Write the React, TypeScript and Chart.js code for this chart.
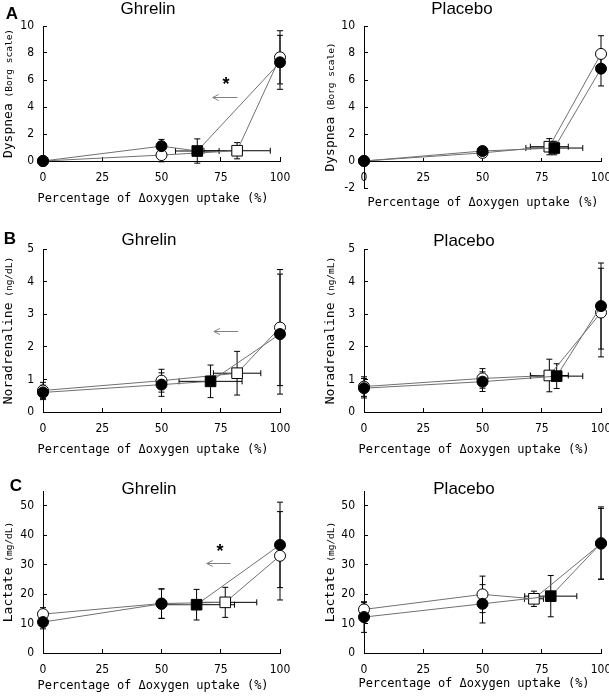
import React, { useEffect, useRef } from 'react';
import { Chart, registerables } from 'chart.js';

Chart.register(...registerables);

// ---------- shared text ----------
const xTickValues = [0, 25, 50, 75, 100];
const xAxisTitle = 'Percentage of Δoxygen uptake (%)';
const ghrelinTitle = 'Ghrelin';
const placeboTitle = 'Placebo';
const panelLetters = ['A', 'B', 'C'];

// ---------- A: Dyspnea ----------
const aGhrFilledX = [0, 50, 65.1, 100];
const aGhrFilledY = [0, 1.1, 0.74, 7.31];
const aGhrFilledXErr = [0, 0, 9.2, 0];
const aGhrFilledYErr = [0, 0.5, 0.9, 2.0];
const aGhrOpenX = [0, 50, 81.9, 100];
const aGhrOpenY = [0, 0.44, 0.76, 7.68];
const aGhrOpenXErr = [0, 0, 14, 0];
const aGhrOpenYErr = [0, 0.5, 0.6, 1.97];
const aGhrStar = [77.2, 5.87];
const aGhrArrow = [82, 71.6, 4.76];

const aPlaFilledX = [0, 50, 80.3, 100];
const aPlaFilledY = [0, 0.74, 0.96, 6.84];
const aPlaFilledXErr = [0, 0, 12, 0];
const aPlaFilledYErr = [0, 0.3, 0.5, 1.28];
const aPlaOpenX = [0, 50, 78.2, 100];
const aPlaOpenY = [0, 0.6, 1.06, 7.93];
const aPlaOpenXErr = [0, 0, 8, 0];
const aPlaOpenYErr = [0, 0.3, 0.6, 1.35];

// ---------- B: Noradrenaline ----------
const bGhrFilledX = [0, 50, 70.7, 100];
const bGhrFilledY = [0.6, 0.84, 0.94, 2.39];
const bGhrFilledXErr = [0, 0, 13.3, 0];
const bGhrFilledYErr = [0.22, 0.36, 0.5, 1.84];
const bGhrOpenX = [0, 50, 81.9, 100];
const bGhrOpenY = [0.66, 0.96, 1.19, 2.59];
const bGhrOpenXErr = [0, 0, 10, 0];
const bGhrOpenYErr = [0.25, 0.35, 0.67, 1.78];
const bGhrArrow = [82.4, 72.1, 2.48];

const bPlaFilledX = [0, 50, 81.3, 100];
const bPlaFilledY = [0.73, 0.93, 1.1, 3.25];
const bPlaFilledXErr = [0, 0, 11, 0];
const bPlaFilledYErr = [0.3, 0.3, 0.38, 1.32];
const bPlaOpenX = [0, 50, 78.2, 100];
const bPlaOpenY = [0.78, 1.03, 1.12, 3.05];
const bPlaOpenXErr = [0, 0, 8, 0];
const bPlaOpenYErr = [0.3, 0.3, 0.5, 1.36];

// ---------- C: Lactate ----------
const cGhrFilledX = [0, 50, 64.8, 100];
const cGhrFilledY = [10.5, 16.7, 16.4, 36.7];
const cGhrFilledXErr = [0, 0, 16, 0];
const cGhrFilledYErr = [2.3, 5, 5.2, 14.5];
const cGhrOpenX = [0, 50, 76.9, 100];
const cGhrOpenY = [13.2, 16.8, 17.2, 33.0];
const cGhrOpenXErr = [0, 0, 13.3, 0];
const cGhrOpenYErr = [2.2, 5, 5.1, 15];
const cGhrStar = [74.7, 35.4];
const cGhrArrow = [79.2, 69.1, 30.5];

const cPlaFilledX = [0, 50, 78.8, 100];
const cPlaFilledY = [12.2, 16.7, 19.3, 37.3];
const cPlaFilledXErr = [0, 0, 11, 0];
const cPlaFilledYErr = [5.2, 6.5, 7, 12.3];
const cPlaOpenX = [0, 50, 71.7, 100];
const cPlaOpenY = [14.8, 19.9, 18.4, 37.1];
const cPlaOpenXErr = [0, 0, 4, 0];
const cPlaOpenYErr = [2.3, 6.2, 2.6, 12];

// ---------- styling / layout ----------
const LINE_COLOR = '#707070';
const TICK_FONT = "'Liberation Sans Narrow', 'DejaVu Sans Condensed', 'Liberation Sans', sans-serif";
const MONO_FONT = "'DejaVu Sans Mono', 'Liberation Mono', monospace";
const SANS_FONT = "'Liberation Sans', Arial, sans-serif";
const Y_AXIS_W = 40;
const X_AXIS_H = 30;

type Series = { x: number[]; y: number[]; xe: number[]; ye: number[] };
type PanelSpec = {
  canvas: { left: number; top: number; width: number; height: number };
  area: { l: number; t: number; r: number; b: number };
  yMin: number; yMax: number; yStep: number;
  yTitle: [string, string];
  title: string; titlePos: [number, number];
  xTitlePos: [number, number];
  yTitleX: number;
  letter?: string; letterPos?: [number, number];
  filled: Series; open: Series;
  star?: number[]; arrow?: number[];
  xAtZero?: boolean;
};

const LEFT = { left: 0, width: 305 };
const RIGHT = { left: 305, width: 304 };
const ROWS = [{ top: 0, height: 230 }, { top: 230, height: 230 }, { top: 460, height: 236 }];

const panels: PanelSpec[] = [
  {
    canvas: { ...LEFT, ...ROWS[0] }, area: { l: 43, t: 26, r: 280, b: 161 },
    yMin: 0, yMax: 10, yStep: 2, yTitle: ['Dyspnea', ' (Borg scale)'],
    title: ghrelinTitle, titlePos: [148, 9], xTitlePos: [153, 199], yTitleX: 9,
    letter: panelLetters[0], letterPos: [12, 14],
    filled: { x: aGhrFilledX, y: aGhrFilledY, xe: aGhrFilledXErr, ye: aGhrFilledYErr },
    open: { x: aGhrOpenX, y: aGhrOpenY, xe: aGhrOpenXErr, ye: aGhrOpenYErr },
    star: aGhrStar, arrow: aGhrArrow,
  },
  {
    canvas: { ...RIGHT, ...ROWS[0] }, area: { l: 364, t: 26, r: 601, b: 188 },
    yMin: -2, yMax: 10, yStep: 2, yTitle: ['Dyspnea', ' (Borg scale)'],
    title: placeboTitle, titlePos: [462, 9], xTitlePos: [483, 203], yTitleX: 331,
    filled: { x: aPlaFilledX, y: aPlaFilledY, xe: aPlaFilledXErr, ye: aPlaFilledYErr },
    open: { x: aPlaOpenX, y: aPlaOpenY, xe: aPlaOpenXErr, ye: aPlaOpenYErr },
    xAtZero: true,
  },
  {
    canvas: { ...LEFT, ...ROWS[1] }, area: { l: 43, t: 249, r: 280, b: 412 },
    yMin: 0, yMax: 5, yStep: 1, yTitle: ['Noradrenaline', ' (ng/dL)'],
    title: ghrelinTitle, titlePos: [149, 240], xTitlePos: [153, 450], yTitleX: 9,
    letter: panelLetters[1], letterPos: [10, 239],
    filled: { x: bGhrFilledX, y: bGhrFilledY, xe: bGhrFilledXErr, ye: bGhrFilledYErr },
    open: { x: bGhrOpenX, y: bGhrOpenY, xe: bGhrOpenXErr, ye: bGhrOpenYErr },
    arrow: bGhrArrow,
  },
  {
    canvas: { ...RIGHT, ...ROWS[1] }, area: { l: 364, t: 249, r: 601, b: 412 },
    yMin: 0, yMax: 5, yStep: 1, yTitle: ['Noradrenaline', ' (ng/mL)'],
    title: placeboTitle, titlePos: [464, 241], xTitlePos: [474, 450], yTitleX: 331,
    filled: { x: bPlaFilledX, y: bPlaFilledY, xe: bPlaFilledXErr, ye: bPlaFilledYErr },
    open: { x: bPlaOpenX, y: bPlaOpenY, xe: bPlaOpenXErr, ye: bPlaOpenYErr },
  },
  {
    canvas: { ...LEFT, ...ROWS[2] }, area: { l: 43, t: 491, r: 280, b: 653 },
    yMin: 0, yMax: 55, yStep: 10, yTitle: ['Lactate', ' (mg/dL)'],
    title: ghrelinTitle, titlePos: [149, 489], xTitlePos: [153, 686], yTitleX: 9,
    letter: panelLetters[2], letterPos: [16, 486],
    filled: { x: cGhrFilledX, y: cGhrFilledY, xe: cGhrFilledXErr, ye: cGhrFilledYErr },
    open: { x: cGhrOpenX, y: cGhrOpenY, xe: cGhrOpenXErr, ye: cGhrOpenYErr },
    star: cGhrStar, arrow: cGhrArrow,
  },
  {
    canvas: { ...RIGHT, ...ROWS[2] }, area: { l: 364, t: 491, r: 601, b: 653 },
    yMin: 0, yMax: 55, yStep: 10, yTitle: ['Lactate', ' (mg/dL)'],
    title: placeboTitle, titlePos: [464, 489], xTitlePos: [474, 684], yTitleX: 331,
    filled: { x: cPlaFilledX, y: cPlaFilledY, xe: cPlaFilledXErr, ye: cPlaFilledYErr },
    open: { x: cPlaOpenX, y: cPlaOpenY, xe: cPlaOpenXErr, ye: cPlaOpenYErr },
  },
];

function makeDataset(s: Series, filled: boolean) {
  return {
    data: s.x.map((x, i) => ({ x, y: s.y[i] })),
    showLine: true,
    borderColor: LINE_COLOR,
    borderWidth: 1,
    pointStyle: ['circle', 'circle', 'rect', 'circle'],
    pointRadius: [5.5, 5.5, 7.5, 5.5],
    pointBackgroundColor: filled ? '#000' : '#fff',
    pointBorderColor: '#000',
    pointBorderWidth: 1,
    clip: false as any,
  };
}

function makePlugin(p: PanelSpec) {
  const ox = p.canvas.left;
  const oy = p.canvas.top;
  return {
    id: 'panelDecor',
    beforeDatasetsDraw(chart: any) {
      const ctx = chart.ctx as CanvasRenderingContext2D;
      const xs = chart.scales.x;
      const ys = chart.scales.y;
      ctx.save();
      ctx.strokeStyle = '#000';
      ctx.lineWidth = 1;
      const cap = 3;
      [p.open, p.filled].forEach((s) => {
        s.x.forEach((xv, i) => {
          const px = xs.getPixelForValue(xv);
          const py = ys.getPixelForValue(s.y[i]);
          if (s.ye[i] > 0) {
            const y1 = ys.getPixelForValue(s.y[i] + s.ye[i]);
            const y2 = ys.getPixelForValue(s.y[i] - s.ye[i]);
            ctx.beginPath();
            ctx.moveTo(px, y1); ctx.lineTo(px, y2);
            ctx.moveTo(px - cap, y1); ctx.lineTo(px + cap, y1);
            ctx.moveTo(px - cap, y2); ctx.lineTo(px + cap, y2);
            ctx.stroke();
          }
          if (s.xe[i] > 0) {
            const x1 = xs.getPixelForValue(xv - s.xe[i]);
            const x2 = xs.getPixelForValue(xv + s.xe[i]);
            ctx.beginPath();
            ctx.moveTo(x1, py); ctx.lineTo(x2, py);
            ctx.moveTo(x1, py - cap); ctx.lineTo(x1, py + cap);
            ctx.moveTo(x2, py - cap); ctx.lineTo(x2, py + cap);
            ctx.stroke();
          }
        });
      });
      ctx.restore();
    },
    afterDraw(chart: any) {
      const ctx = chart.ctx as CanvasRenderingContext2D;
      const xs = chart.scales.x;
      const ys = chart.scales.y;
      const area = chart.chartArea;
      ctx.save();
      ctx.fillStyle = '#000';
      ctx.font = `17px ${SANS_FONT}`;
      ctx.textAlign = 'center';
      ctx.textBaseline = 'middle';
      ctx.fillText(p.title, p.titlePos[0] - ox, p.titlePos[1] - oy);
      if (p.letter && p.letterPos) {
        ctx.font = `bold 17px ${SANS_FONT}`;
        ctx.fillText(p.letter, p.letterPos[0] - ox, p.letterPos[1] - oy);
      }
      ctx.font = `12px ${MONO_FONT}`;
      ctx.fillText(xAxisTitle, p.xTitlePos[0] - ox, p.xTitlePos[1] - oy);
      const mainFont = `13px ${MONO_FONT}`;
      const unitFont = `9.5px ${MONO_FONT}`;
      ctx.font = mainFont;
      const w1 = ctx.measureText(p.yTitle[0]).width;
      ctx.font = unitFont;
      const w2 = ctx.measureText(p.yTitle[1]).width;
      const cy = (area.top + area.bottom) / 2;
      ctx.translate(p.yTitleX - ox, cy);
      ctx.rotate(-Math.PI / 2);
      ctx.textAlign = 'left';
      ctx.font = mainFont;
      ctx.fillText(p.yTitle[0], -(w1 + w2) / 2, 0);
      ctx.font = unitFont;
      ctx.fillText(p.yTitle[1], -(w1 + w2) / 2 + w1, 0.5);
      ctx.setTransform(1, 0, 0, 1, 0, 0);
      if (p.star) {
        ctx.font = `bold 18px ${SANS_FONT}`;
        ctx.textAlign = 'center';
        ctx.textBaseline = 'middle';
        ctx.fillText('*', xs.getPixelForValue(p.star[0]), ys.getPixelForValue(p.star[1]) + 3);
      }
      if (p.arrow) {
        const x1 = xs.getPixelForValue(p.arrow[0]);
        const x2 = xs.getPixelForValue(p.arrow[1]);
        const y = Math.round(ys.getPixelForValue(p.arrow[2])) + 0.5;
        ctx.strokeStyle = '#808080';
        ctx.lineWidth = 1;
        ctx.beginPath();
        ctx.moveTo(x1, y); ctx.lineTo(x2, y);
        ctx.moveTo(x2 + 6, y - 3); ctx.lineTo(x2, y); ctx.lineTo(x2 + 6, y + 3);
        ctx.stroke();
      }
      ctx.restore();
    },
  };
}

function buildConfig(p: PanelSpec): any {
  const pad = {
    left: p.area.l - p.canvas.left - Y_AXIS_W,
    top: p.area.t - p.canvas.top,
    right: p.canvas.left + p.canvas.width - p.area.r,
    bottom: p.canvas.top + p.canvas.height - p.area.b - (p.xAtZero ? 0 : X_AXIS_H),
  };
  return {
    type: 'scatter',
    data: {
      datasets: [makeDataset(p.filled, true), makeDataset(p.open, false)],
    },
    options: {
      animation: false,
      responsive: false,
      events: [],
      layout: { padding: pad },
      plugins: { legend: { display: false }, tooltip: { enabled: false }, title: { display: false } },
      scales: {
        x: {
          type: 'linear',
          position: p.xAtZero ? { y: 0 } : 'bottom',
          min: 0,
          max: 100,
          afterBuildTicks: (s: any) => { s.ticks = xTickValues.map((v) => ({ value: v })); },
          afterFit: (s: any) => { s.height = p.xAtZero ? 0 : X_AXIS_H; s.paddingLeft = 0; s.paddingRight = 0; },
          border: { color: '#000', width: 1 },
          grid: { drawOnChartArea: false, drawTicks: true, tickLength: -4, color: '#000' },
          ticks: { color: '#000', padding: 14, font: { family: TICK_FONT, size: 12 }, maxRotation: 0, autoSkip: false },
        },
        y: {
          type: 'linear',
          min: p.yMin,
          max: p.yMax,
          afterFit: (s: any) => { s.width = Y_AXIS_W; s.paddingTop = 0; s.paddingBottom = 0; },
          border: { color: '#000', width: 1 },
          grid: { drawOnChartArea: false, drawTicks: true, tickLength: -4, color: '#000' },
          ticks: { stepSize: p.yStep, includeBounds: false, color: '#000', padding: 13, font: { family: TICK_FONT, size: 12 } },
        },
      },
    },
    plugins: [makePlugin(p)],
  };
}

function PanelChart({ p }: { p: PanelSpec }) {
  const ref = useRef<HTMLCanvasElement>(null);
  useEffect(() => {
    const chart = new Chart(ref.current as HTMLCanvasElement, buildConfig(p));
    return () => chart.destroy();
  }, []);
  return (
    <canvas
      ref={ref}
      width={p.canvas.width}
      height={p.canvas.height}
      style={{ position: 'absolute', left: p.canvas.left, top: p.canvas.top, width: p.canvas.width, height: p.canvas.height }}
    />
  );
}

export default function App() {
  return (
    <div style={{ position: 'absolute', left: 0, top: 0, width: 609, height: 696, background: '#fff', overflow: 'hidden' }}>
      {panels.map((p, i) => (
        <PanelChart key={i} p={p} />
      ))}
    </div>
  );
}
